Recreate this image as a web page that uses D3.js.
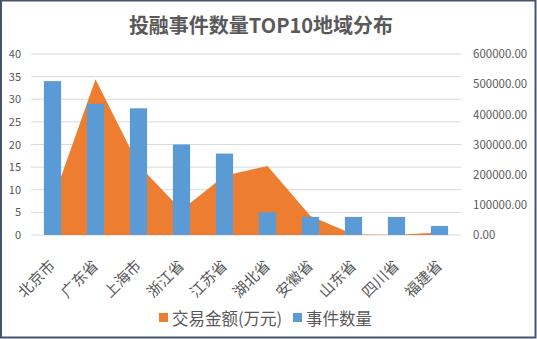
<!DOCTYPE html>
<html><head><meta charset="utf-8">
<script src="https://cdn.jsdelivr.net/npm/d3@7"></script>
<style>
html,body{margin:0;padding:0;background:#fff;}
text{font-family:"Noto Sans CJK SC","Noto Sans",sans-serif;}
</style></head>
<body><svg id="c" width="537" height="339"></svg>
<script>
const categories = ["北京市","广东省","上海市","浙江省","江苏省","湖北省","安徽省","山东省","四川省","福建省"];
const eventCounts = [34,29,28,20,18,5,4,4,4,2];
const dealAmounts = [113000,516000,232000,83000,196000,229000,63000,2000,1000,8000];
const leftTicks = [0,5,10,15,20,25,30,35,40];
const rightTicks = [0,100000,200000,300000,400000,500000,600000];
const titleText = "投融事件数量TOP10地域分布";
const legendNames = ["交易金额(万元)","事件数量"];

const svg = d3.select("#c");
const W = 537, H = 339;
const m = {left:31, right:461, top:54, bottom:235};
const orange = "#ED7D31", blue = "#5B9BD5", gray = "#595959";

svg.append("rect").attr("x",1).attr("y",0.5).attr("width",W-2.5).attr("height",H-2)
  .attr("fill","#fff").attr("stroke","#44546A").attr("stroke-width",2);

svg.append("text").attr("x",261).attr("y",33).attr("text-anchor","middle")
  .attr("font-size",20).attr("font-weight","bold").attr("fill",gray).text(titleText);

const x = d3.scaleBand().domain(categories).range([m.left,m.right]).paddingInner(0.6).paddingOuter(0.3);
const xc = d => x(d) + x.bandwidth()/2;
const yL = d3.scaleLinear().domain([0,40]).range([m.bottom,m.top]);
const yR = d3.scaleLinear().domain([0,600000]).range([m.bottom,m.top]);

// grid
svg.append("g").selectAll("line").data(leftTicks).join("line")
  .attr("x1",m.left).attr("x2",m.right).attr("y1",d=>yL(d)).attr("y2",d=>yL(d))
  .attr("stroke","#D9D9D9").attr("stroke-width",1);

// area
const area = d3.area().x((d,i)=>xc(categories[i])).y0(yR(0)).y1(d=>yR(d));
svg.append("path").datum(dealAmounts).attr("d",area).attr("fill",orange);

// bars
svg.append("g").selectAll("rect").data(eventCounts).join("rect")
  .attr("x",(d,i)=>x(categories[i])).attr("width",x.bandwidth())
  .attr("y",d=>yL(d)).attr("height",d=>yL(0)-yL(d)).attr("fill",blue);

// left axis
const la = svg.append("g").attr("transform",`translate(${m.left},0)`)
  .call(d3.axisLeft(yL).tickValues(leftTicks).tickSize(0).tickPadding(0).tickFormat(d3.format("d")));
la.select(".domain").remove();
la.selectAll("text").attr("x",-10).attr("font-size",11).attr("fill",gray)
  .attr("font-family","Liberation Sans, Arial, sans-serif");

// right axis
const ra = svg.append("g").attr("transform",`translate(${m.right},0)`)
  .call(d3.axisRight(yR).tickValues(rightTicks).tickSize(0).tickPadding(0).tickFormat(d3.format(".2f")));
ra.select(".domain").remove();
ra.selectAll("text").attr("x",12).attr("font-size",11.5).attr("fill",gray)
  .attr("font-family","Liberation Sans, Arial, sans-serif");

// x axis labels
const xa = svg.append("g").attr("transform",`translate(0,${m.bottom})`)
  .call(d3.axisBottom(x).tickSize(0).tickPadding(0));
xa.select(".domain").remove();
xa.selectAll("text").attr("font-size",15).attr("fill",gray)
  .attr("text-anchor","end").attr("y",0).attr("dy",0)
  .attr("transform","translate(-6,22) rotate(-45)")
  .attr("dominant-baseline","hanging")
  .attr("font-family","Noto Sans CJK SC, sans-serif");

// legend
const lg = svg.append("g");
const items = [{name:legendNames[0],c:orange,x:159},{name:legendNames[1],c:blue,x:293}];
items.forEach(it=>{
  lg.append("rect").attr("x",it.x).attr("y",313).attr("width",9).attr("height",9).attr("fill",it.c);
  lg.append("text").attr("x",it.x+13).attr("y",318).attr("dominant-baseline","central")
    .attr("font-size",16.5).attr("fill",gray).text(it.name);
});
</script></body></html>
